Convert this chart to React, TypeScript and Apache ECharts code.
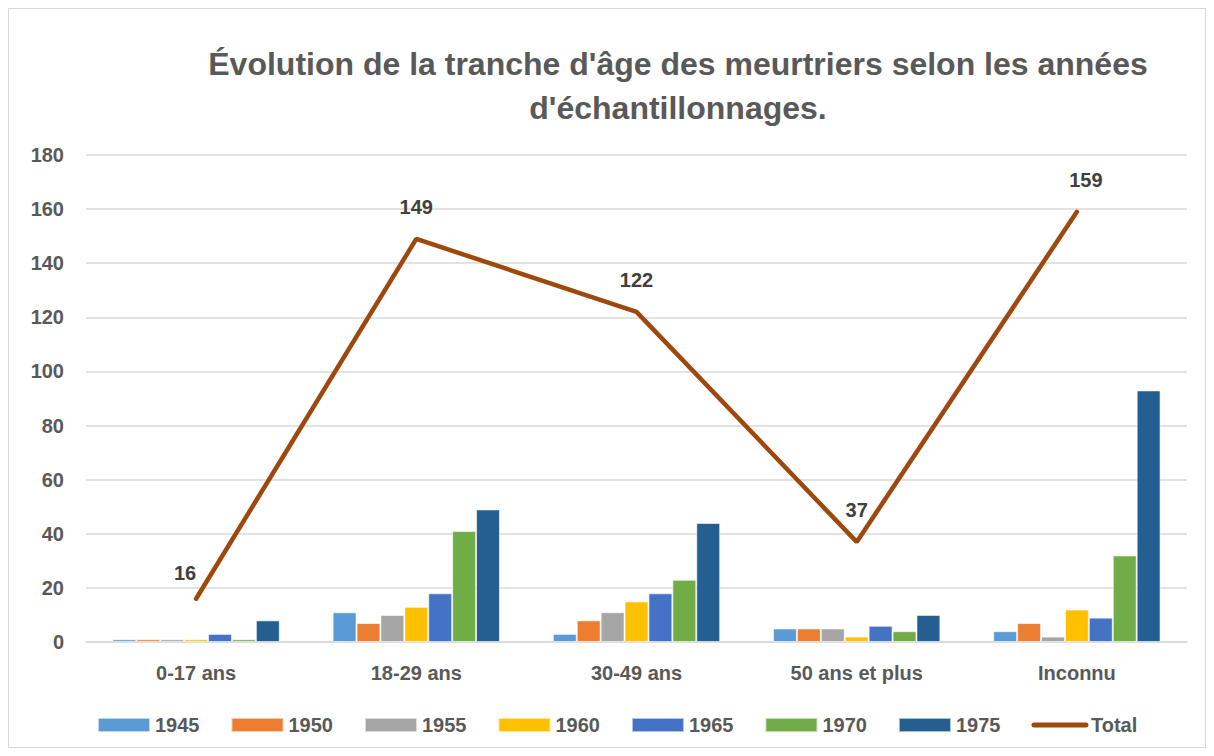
import React, { useEffect, useRef } from "react";
import * as echarts from "echarts";

const categories = ["0-17 ans", "18-29 ans", "30-49 ans", "50 ans et plus", "Inconnu"];
const years = ["1945", "1950", "1955", "1960", "1965", "1970", "1975"];
const v1945 = [1, 11, 3, 5, 4];
const v1950 = [1, 7, 8, 5, 7];
const v1955 = [1, 10, 11, 5, 2];
const v1960 = [1, 13, 15, 2, 12];
const v1965 = [3, 18, 18, 6, 9];
const v1970 = [1, 41, 23, 4, 32];
const v1975 = [8, 49, 44, 10, 93];
const total = [16, 149, 122, 37, 159];
const yearValues = [v1945, v1950, v1955, v1960, v1965, v1970, v1975];
const colors = ["#5B9BD5", "#ED7D31", "#A5A5A5", "#FFC000", "#4472C4", "#70AD47", "#255E91"];
const title = "Évolution de la tranche d'âge des meurtriers selon les années\nd'échantillonnages.";

const FONT = "'Liberation Sans', Arial, sans-serif";
const TXT = "#595959";
const labelOffsets = [[-11, 6], [0, 0], [0, 0], [0, 0], [9, 0]];

export default function App() {
  const ref = useRef<HTMLDivElement>(null);
  useEffect(() => {
    const chart = echarts.init(ref.current!, undefined, { renderer: "svg" });
    const barSeries = years.map((y, i) => ({
      name: y,
      type: "bar",
      data: yearValues[i],
      itemStyle: { color: colors[i], borderColor: "rgba(255,255,255,0.6)", borderWidth: 1 },
      barGap: "0%",
      barCategoryGap: "24%",
    }));
    chart.setOption({
      animation: false,
      backgroundColor: "#ffffff",
      textStyle: { fontFamily: FONT },
      title: {
        text: title,
        left: 664,
        textAlign: "center",
        top: 28,
        textStyle: { fontFamily: FONT, fontSize: 32, fontWeight: "bold", color: TXT, lineHeight: 44 },
      },
      legend: {
        bottom: 7,
        left: 83,
        itemWidth: 52,
        itemHeight: 14,
        itemGap: 31,
        textStyle: { fontFamily: FONT, fontSize: 20, fontWeight: "bold", color: TXT },
        data: [
          ...years.map((y) => ({ name: y, icon: "rect" })),
          {
            name: "Total",
            itemStyle: { color: "rgba(0,0,0,0)", borderWidth: 0 },
            lineStyle: { color: "#9E480E", width: 5, cap: "round" },
          },
        ],
      },
      grid: { left: 77, right: 18, top: 146, bottom: 105, containLabel: false },
      xAxis: {
        type: "category",
        data: categories,
        axisLine: { lineStyle: { color: "#D9D9D9", width: 1.5 } },
        axisTick: { show: false },
        axisLabel: { fontFamily: FONT, fontSize: 20, fontWeight: "bold", color: TXT, margin: 21 },
      },
      yAxis: {
        type: "value",
        min: 0,
        max: 180,
        interval: 20,
        axisLine: { show: false },
        axisTick: { show: false },
        splitLine: { lineStyle: { color: "#D9D9D9", width: 1.5 } },
        axisLabel: { fontFamily: FONT, fontSize: 20, fontWeight: "bold", color: TXT, margin: 22 },
      },
      series: [
        ...barSeries,
        {
          name: "Total",
          type: "line",
          data: total.map((v, i) => ({ value: v, label: { offset: labelOffsets[i] } })),
          symbol: "circle",
          symbolSize: 1,
          showSymbol: true,
          z: 5,
          lineStyle: { color: "#9E480E", width: 4.5, cap: "round" },
          itemStyle: { color: "#9E480E" },
          label: {
            show: true,
            position: "top",
            distance: 21,
            fontFamily: FONT,
            fontSize: 20,
            fontWeight: "bold",
            color: "#404040",
          },
        },
      ],
    });
    return () => chart.dispose();
  }, []);
  return (
    <div
      ref={ref}
      style={{ width: 1198, height: 740, border: "1px solid #D9D9D9", boxSizing: "border-box" }}
    />
  );
}
